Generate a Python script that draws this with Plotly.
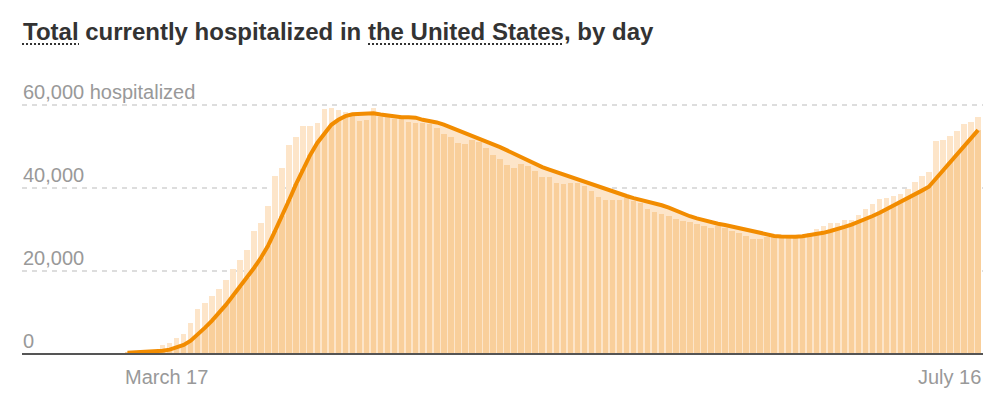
import pandas as pd
import plotly.graph_objects as go

# ---------------- data ----------------
start_date = "2020-03-17"
hospitalized = [
    300, 400, 500, 600, 800, 2100, 2700, 3800, 4900, 7600, 10800, 12200, 13900, 15600, 17900, 20500, 22600,
    25200, 29600, 31500, 35600, 43000, 44800, 50500, 52300, 55100, 55000, 55800, 59100, 59400, 59000, 58400, 58100, 56200, 56400,
    59300, 57200, 57200, 56800, 57000, 55900, 55800, 55700, 55400, 54600, 53000, 52400, 51000, 50700, 51600, 51100, 49800,
    48100, 47100, 45500, 45000, 45900, 45300, 44200, 42800, 42800, 41300, 41100, 41300, 41200, 40500, 39300, 38000, 37200, 37100,
    37200, 37600, 37000, 36400, 35100, 34200, 33700, 33200, 32500, 32200, 31800, 31400, 30800, 30500, 30800, 30500, 29600, 29200,
    28400, 27800, 27800, 28200, 28500, 28700, 28700, 28500, 28500, 29200, 30200, 30900, 31700, 31700, 32400, 32400, 33500,
    35100, 36300, 37300, 37700, 38100, 38600, 39700, 41600, 43000, 43800, 51400, 51700, 52500, 53800, 55400, 56100, 57200,
]
x_tick_labels = ["March 17", "July 16"]
y_tick_values = [0, 20000, 40000, 60000]
y_tick_labels = ["0", "20,000", "40,000", "60,000 hospitalized"]
title_text = "Total currently hospitalized in the United States, by day"

# ---------------- derived ----------------
dates = pd.date_range(start_date, periods=len(hospitalized), freq="D")
series = pd.Series(hospitalized, index=dates)
avg = series.rolling(7, min_periods=1).mean()
below = [min(v, a) for v, a in zip(hospitalized, avg)]
day = pd.Timedelta(days=1)

LIGHT = "#fde5c9"
DARK = "#f9cf9b"
LINE = "#f28c00"
GRAY = "#999999"
FONT = "Liberation Sans, Arial, sans-serif"
BAR_W = 0.78 * 86400000

fig = go.Figure()
# light area under the 7-day average (main axes, drawn underneath)
fig.add_trace(go.Scatter(x=dates, y=avg, mode="lines", line=dict(width=0, color=LIGHT),
                         fill="tozeroy", fillcolor=LIGHT, hoverinfo="skip", showlegend=False,
                         xaxis="x", yaxis="y"))
# bars + line on overlaid axes so they sit above the area
fig.add_trace(go.Bar(x=dates, y=hospitalized, width=BAR_W, marker=dict(color=LIGHT, line=dict(width=0)),
                     showlegend=False, xaxis="x2", yaxis="y2"))
fig.add_trace(go.Bar(x=dates, y=below, width=BAR_W, marker=dict(color=DARK, line=dict(width=0)),
                     showlegend=False, hoverinfo="skip", xaxis="x2", yaxis="y2"))
fig.add_trace(go.Scatter(x=dates, y=avg, mode="lines", line=dict(width=4, color=LINE),
                         showlegend=False, xaxis="x2", yaxis="y2"))

PLOT_H = 408 - 95 - 54

def py_to_paper(py):
    return (354 - py) / PLOT_H

def px_to_xpaper(px):
    return (px - 22) / 961

annotations = []
annotations.append(dict(text=title_text, xref="paper", yref="paper", x=0, y=py_to_paper(31),
                        xanchor="left", yanchor="middle", showarrow=False, borderpad=0,
                        font=dict(family=FONT, size=24, color="#333333", weight="bold")))
for v, lab in zip(y_tick_values, y_tick_labels):
    annotations.append(dict(text=lab, xref="paper", yref="y", x=0, y=v, xanchor="left", yanchor="bottom",
                            yshift=1, showarrow=False, borderpad=0,
                            font=dict(family=FONT, size=20, color=GRAY)))
annotations.append(dict(text=x_tick_labels[0], xref="x", yref="paper", x=dates[0] - 0.5 * day, y=py_to_paper(377),
                        xanchor="left", yanchor="middle", showarrow=False, borderpad=0,
                        font=dict(family=FONT, size=20, color=GRAY)))
annotations.append(dict(text=x_tick_labels[1], xref="x", yref="paper", x=dates[-1] + 0.5 * day, y=py_to_paper(377),
                        xanchor="right", yanchor="middle", showarrow=False, borderpad=0,
                        font=dict(family=FONT, size=20, color=GRAY)))

shapes = [
    dict(type="line", xref="paper", yref="paper", x0=px_to_xpaper(22), x1=px_to_xpaper(79),
         y0=py_to_paper(44), y1=py_to_paper(44), line=dict(color="#333333", width=2, dash="2px,2px")),
    dict(type="line", xref="paper", yref="paper", x0=px_to_xpaper(368), x1=px_to_xpaper(563),
         y0=py_to_paper(44), y1=py_to_paper(44), line=dict(color="#333333", width=2, dash="2px,2px")),
    # baseline
    dict(type="line", xref="paper", yref="paper", x0=0, x1=1, y0=0, y1=0, layer="above",
         line=dict(color="#555555", width=2)),
]

x_range = [dates[0] - 15.0 * day, dates[0] + 121.7 * day]
y_range = [0, 62500]

fig.update_layout(
    width=994, height=408,
    margin=dict(l=22, r=11, t=95, b=54),
    paper_bgcolor="white", plot_bgcolor="white",
    barmode="overlay", bargap=0,
    annotations=annotations, shapes=shapes,
    xaxis=dict(type="date", range=x_range, showgrid=False, showticklabels=False, ticks="",
               zeroline=False, showline=False),
    yaxis=dict(range=y_range, tickvals=y_tick_values, showticklabels=False, ticks="",
               showgrid=True, gridcolor="#dddddd", gridwidth=1.5, griddash="5px,5px",
               zeroline=False, showline=False),
    xaxis2=dict(type="date", range=x_range, overlaying="x", showgrid=False, showticklabels=False,
                ticks="", zeroline=False, showline=False, visible=False),
    yaxis2=dict(range=y_range, overlaying="y", showgrid=False, showticklabels=False, ticks="",
                zeroline=False, showline=False, visible=False),
    font=dict(family=FONT),
)

fig.write_html("out.html", config={"displayModeBar": False},
               post_script="document.body.style.margin='0';document.body.style.padding='0';")
